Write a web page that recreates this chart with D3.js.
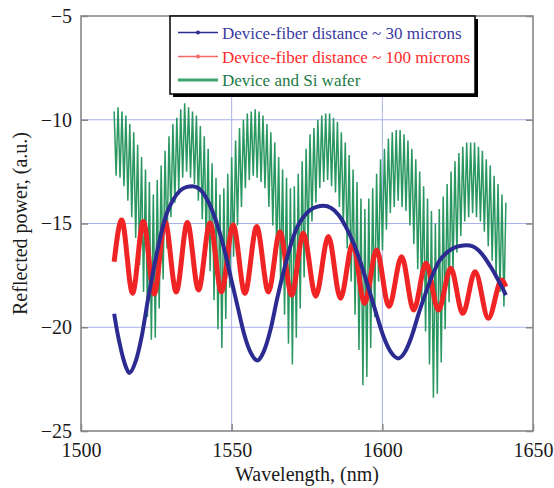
<!DOCTYPE html>
<html>
<head>
<meta charset="utf-8">
<script src="https://cdn.jsdelivr.net/npm/d3@7"></script>
<style>
body { margin: 0; background: #fff; }
text { font-family: "Liberation Serif", "Times New Roman", serif; }
</style>
</head>
<body>
<svg width="554" height="488"></svg>
<script>
// reflected power vs wavelength, three measurements

var xTicks = [1500, 1550, 1600, 1650];
var yTicks = [-25, -20, -15, -10, -5];
var seriesNames = ["Device-fiber distance ~ 30 microns",
                   "Device-fiber distance ~ 100 microns",
                   "Device and Si wafer"];

// device-fiber distance ~ 30 microns
var blueX = [1511, 1512, 1513, 1514, 1515, 1516,
             1518.1, 1520.2, 1522.3, 1524.4, 1526.5, 1528.6, 1530.7, 1532.8, 1534.9, 1537,
             1539.2, 1541.3, 1543.5, 1545.6, 1547.8, 1549.9, 1552.1, 1554.2, 1556.4, 1558.5,
             1560.7, 1562.9, 1565.1, 1567.3, 1569.5, 1571.7, 1573.9, 1576.1, 1578.3, 1580.5,
             1583, 1585.5, 1587.9, 1590.4, 1592.9, 1595.4, 1597.9, 1600.3, 1602.8, 1605.3,
             1607.6, 1609.8, 1612.1, 1614.4, 1616.7, 1618.9, 1621.2, 1623.5, 1625.7, 1628,
             1630, 1632, 1634, 1636, 1638, 1640, 1641];
var blueY = [-19.35, -20.2, -20.9, -21.5, -21.95, -22.2,
             -21.66, -20.4, -18.6, -16.98, -15.54, -14.46, -13.83, -13.43, -13.25, -13.2,
             -13.32, -13.7, -14.36, -15.23, -16.39, -17.72, -19.08, -20.36, -21.25, -21.6,
             -21.15, -20.11, -18.62, -17.28, -16.09, -15.19, -14.67, -14.34, -14.19, -14.15,
             -14.25, -14.59, -15.16, -15.93, -16.94, -18.1, -19.3, -20.41, -21.19, -21.5,
             -21.17, -20.41, -19.32, -18.34, -17.47, -16.81, -16.43, -16.19, -16.08, -16.05,
             -16.1, -16.3, -16.65, -17.1, -17.6, -18.15, -18.45];

// device-fiber distance ~ 100 microns (peaks and troughs)
var redX = [1511, 1513.5, 1517.1, 1520.7, 1524.3, 1527.9, 1531.6, 1535.3, 1539.0, 1542.8,
            1546.6, 1550.5, 1554.4, 1558.3, 1562.2, 1566.0, 1569.9, 1573.8, 1577.9, 1582.1,
            1586.1, 1590.2, 1594.1, 1598.1, 1602.2, 1606.4, 1610.4, 1614.5, 1618.6, 1622.7,
            1626.7, 1630.8, 1635.2, 1639.6, 1641];
var redY = [-16.84, -14.83, -18.36, -14.9, -18.4, -14.9, -18.3, -14.95, -18.2, -14.97,
            -18.29, -15.07, -18.36, -15.15, -18.3, -15.4, -18.45, -15.47, -18.5, -15.63,
            -18.6, -15.96, -18.85, -16.28, -19.0, -16.6, -19.17, -16.92, -19.17, -17.16,
            -19.33, -17.32, -19.57, -17.72, -18.05];

// device and Si wafer (fast fringes)
var greenX = [1511, 1511.65, 1512.3, 1512.95, 1513.6, 1514.25, 1514.9, 1515.55, 1516.2, 1516.85,
              1517.5, 1518.15, 1518.8, 1519.45, 1520.1, 1520.75, 1521.4, 1522.05, 1522.7, 1523.35,
              1524, 1524.65, 1525.3, 1525.95, 1526.6, 1527.25, 1527.9, 1528.55, 1529.2, 1529.85,
              1530.5, 1531.15, 1531.8, 1532.45, 1533.1, 1533.75, 1534.4, 1535.05, 1535.7, 1536.35,
              1537, 1537.65, 1538.3, 1538.95, 1539.6, 1540.25, 1540.9, 1541.55, 1542.2, 1542.85,
              1543.5, 1544.15, 1544.8, 1545.45, 1546.1, 1546.75, 1547.4, 1548.05, 1548.7, 1549.35,
              1550, 1550.65, 1551.3, 1551.95, 1552.6, 1553.25, 1553.9, 1554.55, 1555.2, 1555.85,
              1556.5, 1557.15, 1557.8, 1558.45, 1559.1, 1559.75, 1560.4, 1561.05, 1561.7, 1562.35,
              1563, 1563.65, 1564.3, 1564.95, 1565.6, 1566.25, 1566.9, 1567.55, 1568.2, 1568.85,
              1569.5, 1570.15, 1570.8, 1571.45, 1572.1, 1572.75, 1573.4, 1574.05, 1574.7, 1575.35,
              1576, 1576.65, 1577.3, 1577.95, 1578.6, 1579.25, 1579.9, 1580.55, 1581.2, 1581.85,
              1582.5, 1583.15, 1583.8, 1584.45, 1585.1, 1585.75, 1586.4, 1587.05, 1587.7, 1588.35,
              1589, 1589.65, 1590.3, 1590.95, 1591.6, 1592.25, 1592.9, 1593.55, 1594.2, 1594.85,
              1595.5, 1596.15, 1596.8, 1597.45, 1598.1, 1598.75, 1599.4, 1600.05, 1600.7, 1601.35,
              1602, 1602.65, 1603.3, 1603.95, 1604.6, 1605.25, 1605.9, 1606.55, 1607.2, 1607.85,
              1608.5, 1609.15, 1609.8, 1610.45, 1611.1, 1611.75, 1612.4, 1613.05, 1613.7, 1614.35,
              1615, 1615.65, 1616.3, 1616.95, 1617.6, 1618.25, 1618.9, 1619.55, 1620.2, 1620.85,
              1621.5, 1622.15, 1622.8, 1623.45, 1624.1, 1624.75, 1625.4, 1626.05, 1626.7, 1627.35,
              1628, 1628.65, 1629.3, 1629.95, 1630.6, 1631.25, 1631.9, 1632.55, 1633.2, 1633.85,
              1634.5, 1635.15, 1635.8, 1636.45, 1637.1, 1637.75, 1638.4, 1639.05, 1639.7, 1640.35,
              1641];
var greenY = [-9.6, -12.7, -9.4, -12.8, -9.6, -13.2, -9.8, -13.9, -10.2, -14.7,
              -10.6, -15.7, -11.2, -17.0, -11.8, -18.3, -12.4, -19.5, -13.0, -20.6,
              -13.6, -20.5, -12.9, -19.1, -12.2, -17.7, -11.5, -16.2, -10.8, -14.7,
              -10.2, -14.0, -9.9, -13.4, -9.5, -12.8, -9.2, -12.5, -9.4, -12.8,
              -9.6, -13.1, -9.8, -13.9, -10.3, -14.8, -10.8, -15.9, -11.4, -17.3,
              -12.1, -18.7, -12.8, -20.1, -13.6, -21.0, -13.3, -19.6, -12.6, -18.1,
              -11.8, -16.6, -11.0, -15.1, -10.4, -14.2, -10.0, -13.3, -9.7, -12.9,
              -9.6, -12.7, -9.5, -12.8, -9.6, -13.0, -9.8, -13.3, -10.2, -14.2,
              -10.6, -15.1, -11.1, -16.4, -11.8, -17.9, -12.4, -19.4, -12.8, -20.8,
              -13.3, -21.8, -13.2, -20.5, -12.6, -19.1, -12.0, -17.6, -11.4, -16.1,
              -10.7, -14.9, -10.4, -14.0, -10.0, -13.3, -9.8, -13.0, -9.7, -12.9,
              -9.7, -13.2, -9.9, -13.5, -10.1, -14.2, -10.6, -15.1, -11.1, -16.2,
              -11.7, -17.8, -12.4, -19.4, -13.0, -21.1, -13.8, -22.8, -14.3, -22.4,
              -13.8, -21.0, -13.3, -19.5, -12.6, -17.8, -11.9, -16.3, -11.4, -15.3,
              -10.9, -14.5, -10.6, -14.2, -10.5, -13.9, -10.5, -14.2, -10.7, -14.4,
              -11.0, -15.1, -11.4, -16.0, -11.9, -17.2, -12.5, -18.7, -13.2, -20.2,
              -13.8, -21.8, -14.4, -23.4, -15.0, -23.2, -14.3, -21.7, -13.7, -20.1,
              -13.1, -18.8, -12.5, -17.4, -12.0, -16.4, -11.6, -15.6, -11.3, -14.9,
              -11.1, -14.7, -11.1, -14.5, -11.1, -14.7, -11.3, -14.9, -11.5, -15.4,
              -11.9, -16.1, -12.2, -16.8, -12.7, -17.6, -13.1, -18.3, -13.6, -19.0,
              -14.0];

var width = 554;
var height = 488;
var plotL = 81, plotR = 533, plotT = 16, plotB = 431;

var xScale = d3.scaleLinear().domain([1500, 1650]).range([plotL, plotR]);
var yScale = d3.scaleLinear().domain([-25, -5]).range([plotB, plotT]);

var svg = d3.select("svg")
            .attr("width", width)
            .attr("height", height);

svg.append("clipPath").attr("id", "plotclip")
   .append("rect")
     .attr("x", plotL).attr("y", plotT)
     .attr("width", plotR - plotL).attr("height", plotB - plotT);

// grid
svg.append("g").selectAll("line")
   .data(xTicks.slice(1, -1))
   .enter().append("line")
     .attr("x1", d => xScale(d)).attr("x2", d => xScale(d))
     .attr("y1", plotT).attr("y2", plotB)
     .attr("stroke", "#aab0ea").attr("stroke-width", 1);
svg.append("g").selectAll("line")
   .data(yTicks.slice(1, -1))
   .enter().append("line")
     .attr("x1", plotL).attr("x2", plotR)
     .attr("y1", d => yScale(d)).attr("y2", d => yScale(d))
     .attr("stroke", "#aab0ea").attr("stroke-width", 1);

var plot = svg.append("g").attr("clip-path", "url(#plotclip)");

var green = greenX.map((x, i) => [x, greenY[i]]);
var red = redX.map((x, i) => [x, redY[i]]);
var blue = blueX.map((x, i) => [x, blueY[i]]);

var zigzag = d3.line().x(d => xScale(d[0])).y(d => yScale(d[1]));
var smooth = d3.line().x(d => xScale(d[0])).y(d => yScale(d[1])).curve(d3.curveMonotoneX);

plot.append("path")
    .datum(green)
    .attr("d", zigzag)
    .attr("fill", "none")
    .attr("stroke", "#2a9760")
    .attr("stroke-width", 1.5);

plot.append("path")
    .datum(red)
    .attr("d", smooth)
    .attr("fill", "none")
    .attr("stroke", "#f02424")
    .attr("stroke-width", 5);

plot.append("path")
    .datum(blue)
    .attr("d", smooth)
    .attr("fill", "none")
    .attr("stroke", "#2b2b92")
    .attr("stroke-width", 4);

// frame + ticks
svg.append("rect")
   .attr("x", plotL).attr("y", plotT)
   .attr("width", plotR - plotL).attr("height", plotB - plotT)
   .attr("fill", "none").attr("stroke", "#808080").attr("stroke-width", 1.5);

function styleAxis(g) {
  g.select(".domain").remove();
  g.selectAll(".tick line").attr("stroke", "#888").attr("stroke-width", 1.5);
  g.selectAll(".tick text")
   .attr("fill", "#1a1a1a")
   .style("font-size", "20px")
   .style("font-family", "'Liberation Serif', 'Times New Roman', serif");
}

svg.append("g")
   .attr("transform", "translate(" + plotL + ",0)")
   .call(d3.axisLeft(yScale).tickValues(yTicks).tickSize(-7).tickPadding(9).tickFormat(d3.format("d")))
   .call(styleAxis);
svg.append("g")
   .attr("transform", "translate(" + plotR + ",0)")
   .call(d3.axisRight(yScale).tickValues(yTicks).tickSize(-7).tickFormat(""))
   .call(styleAxis);
svg.append("g")
   .attr("transform", "translate(0," + plotB + ")")
   .call(d3.axisBottom(xScale).tickValues(xTicks).tickSize(-7).tickPadding(12).tickFormat(d3.format("d")))
   .call(styleAxis);

svg.append("text")
   .attr("x", (plotL + plotR) / 2)
   .attr("y", 481)
   .attr("text-anchor", "middle")
   .attr("fill", "#1a1a1a")
   .style("font-size", "20px")
   .text("Wavelength, (nm)");

svg.append("text")
   .attr("transform", "translate(27," + (plotT + plotB) / 2 + ") rotate(-90)")
   .attr("text-anchor", "middle")
   .attr("fill", "#1a1a1a")
   .style("font-size", "20px")
   .text("Reflected power, (a.u.)");

// legend
var legend = svg.append("g");
legend.append("rect")
      .attr("x", 173).attr("y", 19).attr("width", 305).attr("height", 78)
      .attr("fill", "#000");
legend.append("rect")
      .attr("x", 170).attr("y", 16).attr("width", 305).attr("height", 78)
      .attr("fill", "#fff").attr("stroke", "#000").attr("stroke-width", 1.5);

var legendColors = ["#3a3aa2", "#ff2a2a", "#1b7a45"];
var lineColors = ["#2b2b92", "#f26a6a", "#3fa56e"];
var rowY = [32.5, 56.5, 80];

legend.selectAll("line.key")
      .data(seriesNames)
      .enter().append("line")
        .attr("class", "key")
        .attr("x1", 178).attr("x2", 218)
        .attr("y1", (d, i) => rowY[i]).attr("y2", (d, i) => rowY[i])
        .attr("stroke", (d, i) => lineColors[i])
        .attr("stroke-width", (d, i) => i == 2 ? 3 : 1.5);

legend.selectAll("circle")
      .data(seriesNames.slice(0, 2))
      .enter().append("circle")
        .attr("cx", 198).attr("cy", (d, i) => rowY[i]).attr("r", 2)
        .attr("fill", (d, i) => lineColors[i]);

legend.selectAll("text")
      .data(seriesNames)
      .enter().append("text")
        .attr("x", 222)
        .attr("y", (d, i) => rowY[i] + 6)
        .attr("fill", (d, i) => legendColors[i])
        .style("font-size", "17px")
        .text(d => d);
</script>
</body>
</html>
